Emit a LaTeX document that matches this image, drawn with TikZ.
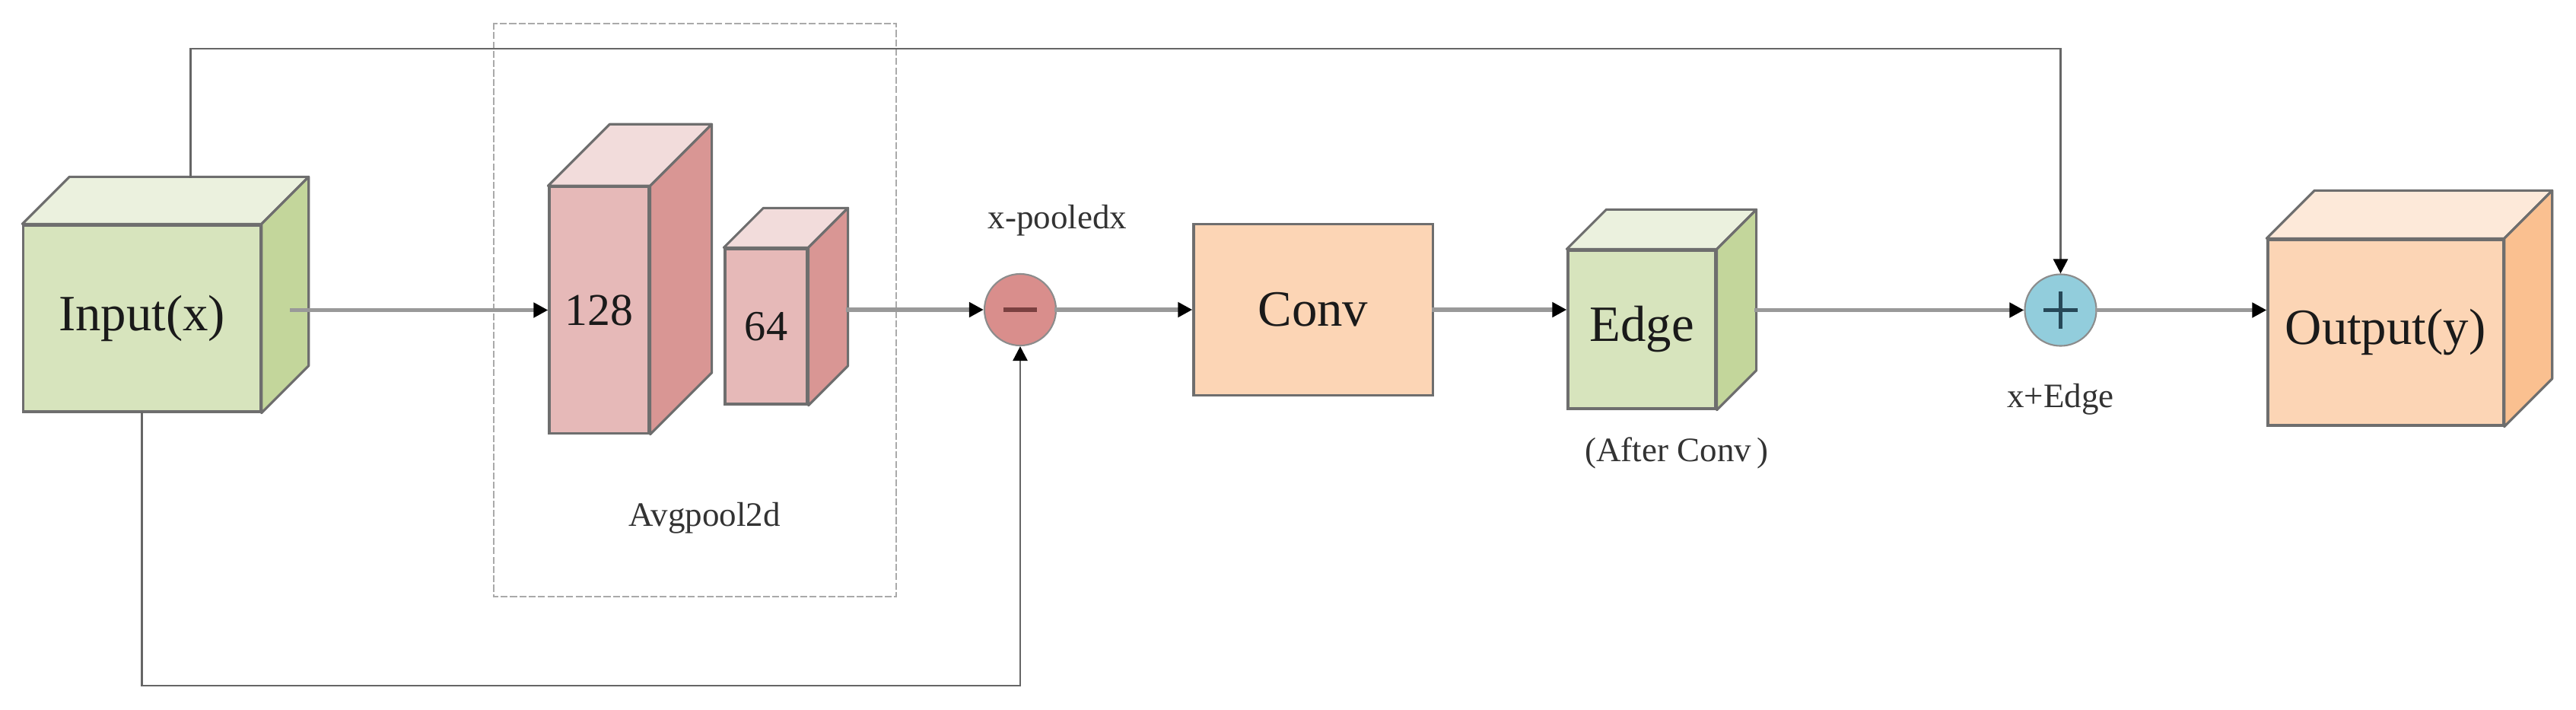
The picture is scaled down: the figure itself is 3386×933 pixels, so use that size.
\documentclass[tikz,border=0pt]{standalone}
\usepackage{fontspec}
\setmainfont{Liberation Serif}
\usepackage{tikz}
\usetikzlibrary{arrows.meta}

\begin{document}
\begin{tikzpicture}[x=0.01cm,y=-0.01cm,line cap=rect,
	facebox/.style={draw=custcol_6e_6e_6e,line width=0.9pt,inner sep=0,text=custcol_1a_1a_1a,font=\fontsize{19pt}{19pt}\selectfont},
	opnode/.style={circle,draw=custcol_8c_8c_8c,line width=0.6pt,minimum size=0.94cm,inner sep=0},
	mainline/.style={draw=custcol_99_99_99,line width=1.5pt,-{Triangle[length=0.19cm,width=0.19cm,black]}},
	skipline/.style={draw=custcol_66_66_66,line width=0.8pt,-{Triangle[length=0.19cm,width=0.19cm,black]}},
	smalllabel/.style={inner sep=0,text=custcol_33_33_33,font=\fontsize{12.8pt}{13pt}\selectfont}]
					\definecolor{custcol_d7_e4_bd}{RGB}{215, 228, 189}
					\definecolor{custcol_eb_f1_de}{RGB}{235, 241, 222}
					\definecolor{custcol_c3_d6_9b}{RGB}{195, 214, 155}
					\definecolor{custcol_e6_b9_b8}{RGB}{230, 185, 184}
					\definecolor{custcol_f2_dc_db}{RGB}{242, 220, 219}
					\definecolor{custcol_d9_96_94}{RGB}{217, 150, 148}
					\definecolor{custcol_fc_d5_b5}{RGB}{252, 213, 181}
					\definecolor{custcol_fd_e9_d9}{RGB}{253, 233, 217}
					\definecolor{custcol_fa_c0_90}{RGB}{250, 192, 144}
					\definecolor{custcol_d9_8e_8c}{RGB}{217, 142, 140}
					\definecolor{custcol_92_cd_dc}{RGB}{146, 205, 220}
					\definecolor{custcol_7a_40_40}{RGB}{122, 64, 64}
					\definecolor{custcol_26_48_58}{RGB}{38, 72, 88}
					\definecolor{custcol_6e_6e_6e}{RGB}{110, 110, 110}
					\definecolor{custcol_8c_8c_8c}{RGB}{140, 140, 140}
					\definecolor{custcol_99_99_99}{RGB}{153, 153, 153}
					\definecolor{custcol_66_66_66}{RGB}{102, 102, 102}
					\definecolor{custcol_aa_aa_aa}{RGB}{170, 170, 170}
					\definecolor{custcol_1a_1a_1a}{RGB}{26, 26, 26}
					\definecolor{custcol_33_33_33}{RGB}{51, 51, 51}
					\def\cubesides#1#2#3#4{% front node, depth, top colour, side colour
						\filldraw[fill=#3,draw=custcol_6e_6e_6e,line width=0.9pt,line join=round] (#1.north west) -- ++(#2,-#2) -- ([shift={(#2,-#2)}]#1.north east) -- (#1.north east) -- cycle;
						\filldraw[fill=#4,draw=custcol_6e_6e_6e,line width=0.9pt,line join=round] (#1.north east) -- ++(#2,-#2) -- ([shift={(#2,-#2)}]#1.south east) -- (#1.south east) -- cycle;}
					\useasboundingbox (0,0) rectangle (3386,933);
					\draw [custcol_aa_aa_aa, line width=0.6pt, dash pattern=on 2pt off 1.5pt]  (649,31) rectangle (1178,784);
					\node[facebox, fill=custcol_d7_e4_bd, minimum width=3.11cm, minimum height=2.45cm] (in) at (186.5,418.5) {Input(x)};
					\cubesides{in}{62}{custcol_eb_f1_de}{custcol_c3_d6_9b}
					\node[facebox, fill=custcol_e6_b9_b8, minimum width=1.31cm, minimum height=3.23cm, font=\fontsize{17pt}{17pt}\selectfont] (p128) at (787.5,407.5) {128};
					\cubesides{p128}{81}{custcol_f2_dc_db}{custcol_d9_96_94}
					\node[facebox, fill=custcol_e6_b9_b8, minimum width=1.08cm, minimum height=2.04cm, font=\fontsize{16pt}{16pt}\selectfont] (p64) at (1007,429) {64};
					\cubesides{p64}{52}{custcol_f2_dc_db}{custcol_d9_96_94}
					\node[smalllabel] (lpool) at (926,681) {Avgpool2d};
					\node[opnode, fill=custcol_d9_8e_8c, path picture={\draw[custcol_7a_40_40, line width=1.6pt] (path picture bounding box.center) ++(-19,0) -- ++(38,0);}] (sub) at (1341,407) {};
					\node[smalllabel] (lsub) at (1390,290) {x-pooledx};
					\node[facebox, fill=custcol_fc_d5_b5, minimum width=3.14cm, minimum height=2.25cm] (conv) at (1726,407) {Conv};
					\node[facebox, fill=custcol_d7_e4_bd, minimum width=1.94cm, minimum height=2.08cm] (edge) at (2158,433) {Edge};
					\cubesides{edge}{52}{custcol_eb_f1_de}{custcol_c3_d6_9b}
					\node[smalllabel] (lafter) at (2204,595) {(After Conv\,)};
					\node[opnode, fill=custcol_92_cd_dc, path picture={\draw[custcol_26_48_58, line width=1.4pt] (path picture bounding box.center) ++(-20,0) -- ++(40,0) (path picture bounding box.center) ++(0,-22) -- ++(0,44);}] (add) at (2708.5,407.5) {};
					\node[smalllabel] (ladd) at (2708.5,525) {x+Edge};
					\node[facebox, fill=custcol_fc_d5_b5, minimum width=3.09cm, minimum height=2.44cm] (out) at (3135.5,437) {Output(y)};
					\cubesides{out}{63}{custcol_fd_e9_d9}{custcol_fa_c0_90}
					\coordinate (topy) at (0,64);
					\coordinate (boty) at (0,901);
					\draw [mainline]  (in.east |- p128.west) ++(40,0) -- (p128.west);
					\draw [mainline]  (p64.east |- sub.west) ++(52,0) -- (sub.west);
					\draw [mainline]  (sub.east) -- (conv.west);
					\draw [mainline]  (conv.east) -- (edge.west |- conv.east);
					\draw [mainline]  (edge.east |- add.west) ++(52,0) -- (add.west);
					\draw [mainline]  (add.east) -- (out.west |- add.east);
					\draw [skipline]  ([shift={(64,-62)}]in.north) |- (topy -| add.north) -- (add.north);
					\draw [skipline]  (in.south) |- (boty -| sub.south) -- (sub.south);
				\end{tikzpicture}
\end{document}
